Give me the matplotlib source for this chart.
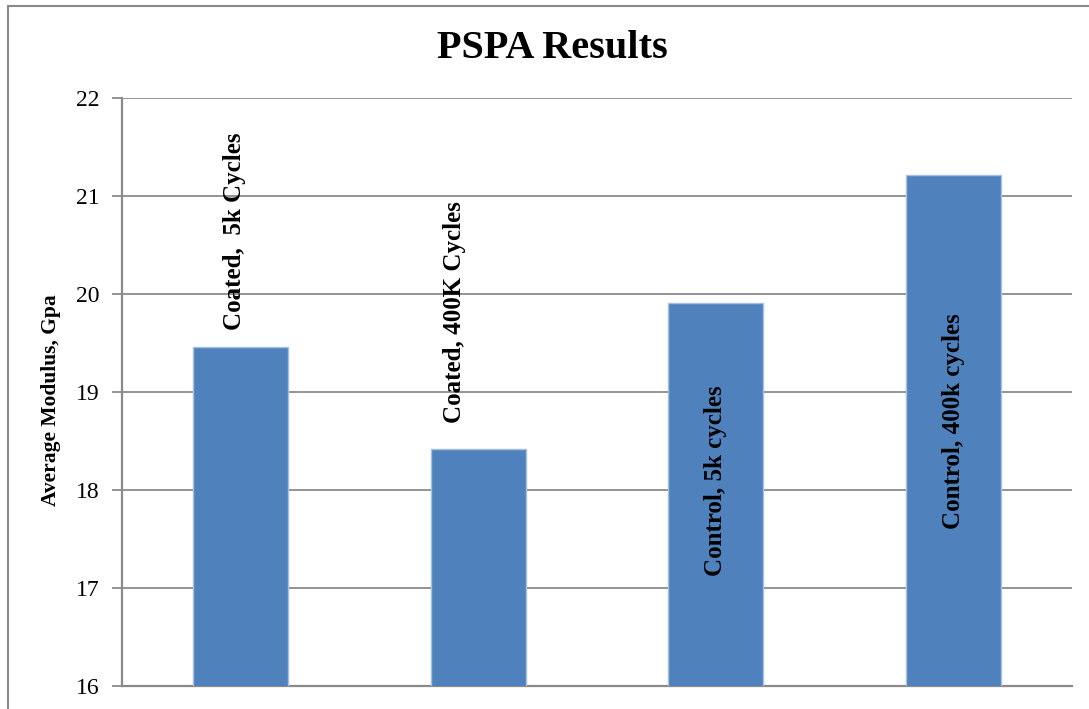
import numpy as np
import matplotlib.pyplot as plt
from matplotlib.patches import Rectangle

# PSPA average modulus per specimen group
groups = ["Coated,  5k Cycles", "Coated, 400K Cycles", "Control, 5k cycles", "Control, 400k cycles"]
modulus = [19.46, 18.42, 19.91, 21.21]
yticks = [16, 17, 18, 19, 20, 21, 22]

plt.rcParams['font.family'] = ['Liberation Serif', 'DejaVu Serif']

fig = plt.figure(figsize=(10.89, 7.09), dpi=100)
ax = fig.add_axes([0.112, 0.0324, 0.8724, 0.8294])

x = np.arange(len(groups))
ax.bar(x, modulus, width=0.4, bottom=0, color="#4F81BD", edgecolor="#A7C1E0",
       linewidth=1.0, zorder=3)

ax.set_xlim(-0.5, len(groups) - 0.5)
ax.set_ylim(16, 22)
ax.set_yticks(yticks)
ax.set_yticklabels([str(t) for t in yticks], fontsize=17)
ax.set_xticks([])
ax.yaxis.grid(True, color="#8A8A8A", linewidth=1.3, zorder=0)
ax.tick_params(axis='y', length=7, width=1.3, color="#8A8A8A", pad=9)

for s in ['top', 'right']:
    ax.spines[s].set_visible(False)
for s in ['left', 'bottom']:
    ax.spines[s].set_color("#8A8A8A")
    ax.spines[s].set_linewidth(1.6)

ax.set_ylabel("Average Modulus, Gpa", fontsize=15.5, fontweight='bold')
ax.yaxis.set_label_coords(-0.064, 0.487)

# rotated group names, first two above the bars, last two inside
lab_x = [-0.025, 0.9, 2.0, 3.0]
lab_y = [19.63, 18.68, 18.10, 18.70]
lab_va = ['bottom', 'bottom', 'center', 'center']
for i, name in enumerate(groups):
    ax.text(lab_x[i], lab_y[i], name, rotation=90, ha='center', va=lab_va[i],
            fontsize=18, fontweight='bold', zorder=4)

fig.text(0.507, 0.932, "PSPA Results", ha='center', va='center',
         fontsize=29, fontweight='bold')

# outer chart border
fig.patches.append(Rectangle((0.0073, -0.2), 1.5, 0.9915 + 0.2, transform=fig.transFigure,
                             fill=False, edgecolor="#8A8A8A", linewidth=1.5))

fig.savefig("out.png", dpi=100)
